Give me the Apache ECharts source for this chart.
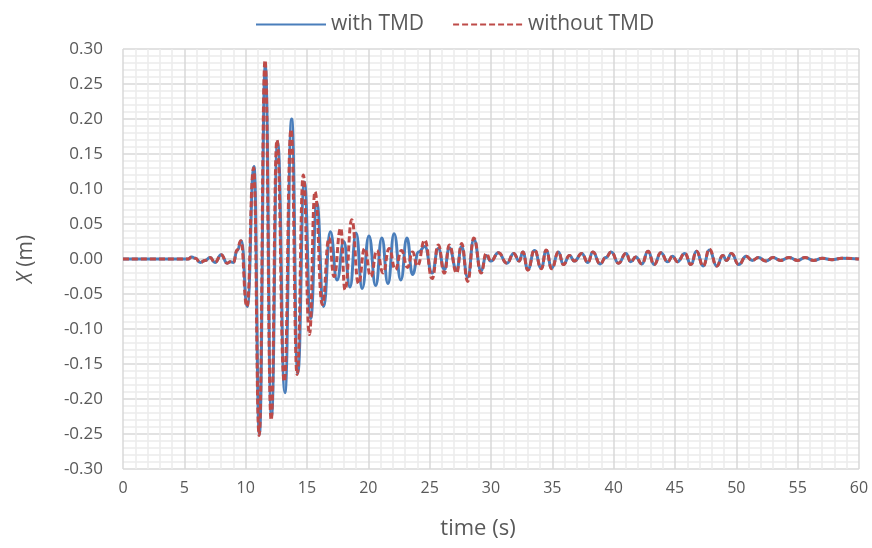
<!DOCTYPE html>
<html>
<head>
<meta charset="utf-8">
<script src="https://cdn.jsdelivr.net/npm/echarts@6/dist/echarts.min.js"></script>
<style>html,body{margin:0;padding:0;background:#fff}#c{width:872px;height:548px}</style>
</head>
<body>
<div id="c"></div>
<script>
// Series names
const seriesNames = ['with TMD', 'without TMD'];
// X axis ticks
const xTicks = [0,5,10,15,20,25,30,35,40,45,50,55,60];
// Y axis ticks
const yTicks = [-0.30,-0.25,-0.20,-0.15,-0.10,-0.05,0.00,0.05,0.10,0.15,0.20,0.25,0.30];

// with TMD: time (s)
const tWith = [0,5.3,5.6,5.9,6.3,6.7,7.1,7.5,8.0,8.5,8.75,9.0,9.3,9.65,10.13,10.68,11.12,11.6,12.1,12.6,13.2,13.75,14.25,14.78,15.3,15.8,16.35,16.9,17.45,18.0,18.5,19.0,19.5,20.05,20.6,21.1,21.6,22.1,22.65,23.15,23.6,24.1,24.6,25.2,25.7,26.2,26.6,27.2,27.6,28.1,28.6,29.2,29.6,30.0,30.6,31.3,31.85,32.3,32.6,33.0,33.55,34.1,34.5,34.95,35.5,35.9,36.4,36.8,37.4,37.9,38.3,38.9,39.35,39.8,40.4,41.0,41.4,41.8,42.3,42.8,43.3,43.85,44.4,44.8,45.2,45.8,46.3,46.75,47.3,47.8,48.4,48.9,49.2,49.6,50.2,50.8,51.3,51.8,52.4,53.0,53.6,54.3,55.0,55.6,56.3,57.0,57.8,58.6,60];
// with TMD: X (m)
const xWith = [0,0,0.003,0.001,-0.005,-0.002,0.002,-0.005,0.006,-0.006,-0.004,-0.005,0.012,0.026,-0.068,0.132,-0.25,0.276,-0.225,0.168,-0.191,0.2,-0.163,0.11,-0.085,0.08,-0.068,0.039,-0.03,0.025,-0.04,0.037,-0.042,0.033,-0.038,0.03,-0.035,0.036,-0.03,0.03,-0.022,0.01,0.018,-0.02,0.015,-0.015,0.016,-0.016,0.018,-0.026,0.028,-0.017,0.005,-0.003,0.009,-0.006,0.008,-0.003,0.01,-0.015,0.012,-0.013,0.012,-0.013,0.01,-0.008,0.005,-0.003,0.008,-0.005,0.01,-0.007,0.002,0.01,-0.006,0.008,-0.004,0.003,-0.007,0.011,-0.008,0.009,-0.004,0.004,-0.004,0.008,-0.008,0.011,-0.01,0.013,-0.01,0.005,-0.002,0.008,-0.008,0.004,-0.002,0.002,-0.003,0.002,-0.002,0.002,-0.002,0.002,-0.002,0.001,-0.001,0.001,0];

// without TMD: time (s)
const tWithout = [0,5.3,5.6,5.9,6.3,6.7,7.1,7.5,8.0,8.5,8.75,9.0,9.3,9.6,10.1,10.65,11.1,11.58,12.08,12.55,13.15,13.7,14.2,14.7,15.2,15.65,16.25,16.8,17.2,17.75,18.1,18.65,19.2,19.7,20.2,20.7,21.2,21.7,22.2,22.7,23.2,23.6,24.0,24.6,25.2,25.7,26.2,26.6,27.2,27.6,28.1,28.6,29.2,29.6,30.0,30.6,31.3,31.85,32.3,32.6,33.0,33.55,34.1,34.5,34.95,35.5,35.9,36.4,36.8,37.4,37.9,38.3,38.9,39.35,39.8,40.4,41.0,41.4,41.8,42.3,42.8,43.3,43.85,44.4,44.8,45.2,45.8,46.3,46.75,47.3,47.8,48.4,48.9,49.2,49.6,50.2,50.8,51.3,51.8,52.4,53.0,53.6,54.3,55.0,55.6,56.3,57.0,57.8,58.6,60];
// without TMD: X (m)
const xWithout = [0,0,0.003,0.001,-0.005,-0.002,0.002,-0.005,0.006,-0.006,-0.004,-0.005,0.013,0.026,-0.068,0.13,-0.252,0.284,-0.23,0.17,-0.175,0.185,-0.165,0.12,-0.108,0.096,-0.065,0.03,-0.025,0.044,-0.044,0.056,-0.035,0.015,-0.025,0.012,-0.02,0.015,-0.015,0.012,-0.012,0.01,-0.01,0.027,-0.028,0.02,-0.02,0.02,-0.02,0.022,-0.032,0.03,-0.02,0.008,-0.003,0.009,-0.006,0.008,-0.003,0.01,-0.016,0.013,-0.014,0.013,-0.014,0.01,-0.008,0.005,-0.003,0.008,-0.005,0.01,-0.007,0.002,0.01,-0.006,0.008,-0.004,0.003,-0.007,0.011,-0.008,0.009,-0.004,0.004,-0.004,0.008,-0.008,0.011,-0.01,0.014,-0.01,0.005,-0.002,0.008,-0.008,0.004,-0.002,0.002,-0.003,0.002,-0.002,0.002,-0.002,0.002,-0.002,0.001,-0.001,0.001,0];

const pair = (ts, vs) => ts.map((t, i) => [t, vs[i]]);
const FONT = '"Open Sans", "Liberation Sans", sans-serif';
const TXT = '#595959';
const chart = echarts.init(document.getElementById('c'), null, {renderer: 'canvas'});
chart.setOption({
  animation: false,
  backgroundColor: '#ffffff',
  legend: {
    top: 9, left: 250,
    itemWidth: 70, itemHeight: 2, itemGap: 28,
    itemStyle: {opacity: 0},
    textStyle: {fontFamily: FONT, fontSize: 21, color: TXT},
    data: seriesNames
  },
  grid: {left: 123, right: 13, top: 49, bottom: 79, containLabel: false},
  xAxis: {
    type: 'value', min: xTicks[0], max: xTicks[xTicks.length-1], interval: 5,
    name: 'time (s)', nameLocation: 'middle', nameGap: 49,
    nameTextStyle: {fontFamily: FONT, fontSize: 22, color: TXT, padding: [0, 26, 0, 0]},
    axisLine: {show: false}, axisTick: {show: false},
    axisLabel: {fontFamily: FONT, fontSize: 16, color: TXT, margin: 11},
    splitLine: {show: true, lineStyle: {color: '#d9d9d9', width: 1.5}},
    minorTick: {show: false, splitNumber: 5},
    minorSplitLine: {show: true, lineStyle: {color: '#ebebeb', width: 1.5}}
  },
  yAxis: {
    type: 'value', min: yTicks[0], max: yTicks[yTicks.length-1], interval: 0.05,
    name: '{i|X} (m)', nameLocation: 'middle', nameGap: 86, nameRotate: 90,
    nameTextStyle: {fontFamily: FONT, fontSize: 21, color: TXT,
      rich: {i: {fontFamily: FONT, fontSize: 21, fontStyle: 'italic', color: TXT}}},
    axisLine: {show: false}, axisTick: {show: false},
    axisLabel: {fontFamily: FONT, fontSize: 17, color: TXT, margin: 20,
      formatter: v => v.toFixed(2)},
    splitLine: {show: true, lineStyle: {color: '#d9d9d9', width: 1.5}},
    minorTick: {show: false, splitNumber: 5},
    minorSplitLine: {show: true, lineStyle: {color: '#ebebeb', width: 1.5}}
  },
  series: [
    {
      name: seriesNames[0], type: 'line', data: pair(tWith, xWith),
      symbol: 'none', showSymbol: false, smooth: 0.5, smoothMonotone: 'x',
      lineStyle: {color: '#4a7ebb', width: 3}, itemStyle: {color: '#4a7ebb'}, z: 2
    },
    {
      name: seriesNames[1], type: 'line', data: pair(tWithout, xWithout),
      symbol: 'none', showSymbol: false, smooth: 0.5, smoothMonotone: 'x',
      lineStyle: {color: '#be4b48', width: 3, type: [6, 3]}, itemStyle: {color: '#be4b48'}, z: 3
    }
  ]
});
</script>
</body>
</html>
